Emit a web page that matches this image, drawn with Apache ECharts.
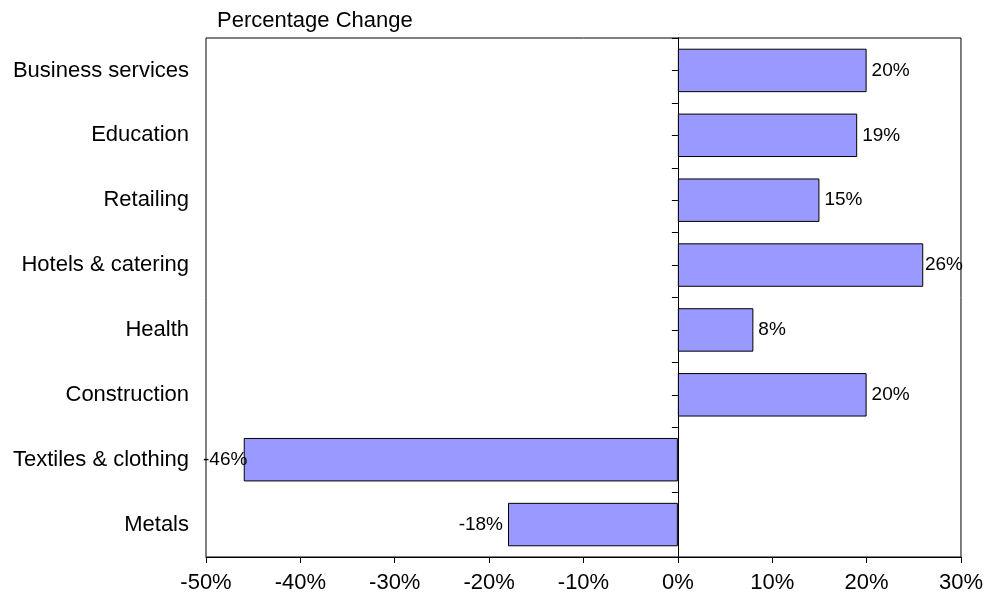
<!DOCTYPE html>
<html>
<head>
<meta charset="utf-8">
<script src="https://cdn.jsdelivr.net/npm/echarts@6/dist/echarts.min.js"></script>
<style>
  html, body { margin: 0; padding: 0; background: #fff; }
  #chart { width: 986px; height: 599px; }
</style>
</head>
<body>
<div id="chart"></div>
<script>
// Sectors, listed top to bottom
const sectors = [
  'Business services',
  'Education',
  'Retailing',
  'Hotels & catering',
  'Health',
  'Construction',
  'Textiles & clothing',
  'Metals'
];
// Percentage change for each sector
const changes = [20, 19, 15, 26, 8, 20, -46, -18];
// Value axis range and step (percent)
const axisMin = -50;
const axisMax = 30;
const axisStep = 10;

const FONT = "'Liberation Sans', Arial, sans-serif";
const W = 986;
const GRID = { left: 206, right: 22, top: 38, bottom: 42 };

const chart = echarts.init(document.getElementById('chart'), null, { renderer: 'canvas' });

const hiddenCategoryAxis = (extra) => Object.assign({
  type: 'category',
  data: sectors,
  inverse: true,
  position: 'left',
  axisLine: { show: true, onZero: true, onZeroAxisIndex: 0, lineStyle: { color: '#000', width: 1 } },
  axisTick: { show: true, length: 6, inside: false, lineStyle: { color: '#000', width: 1 } },
  axisLabel: { show: false },
  splitLine: { show: false }
}, extra);

chart.setOption({
  animation: false,
  backgroundColor: '#fff',
  textStyle: { fontFamily: FONT, color: '#000' },
  title: {
    text: 'Percentage Change',
    left: 217,
    top: 10,
    padding: 0,
    textStyle: { fontFamily: FONT, fontSize: 22, fontWeight: 'normal', color: '#000' }
  },
  grid: {
    left: GRID.left,
    right: GRID.right,
    top: GRID.top,
    bottom: GRID.bottom,
    show: true,
    borderColor: '#000',
    borderWidth: 1,
    backgroundColor: '#fff',
    containLabel: false
  },
  xAxis: {
    type: 'value',
    min: axisMin,
    max: axisMax,
    interval: axisStep,
    position: 'bottom',
    axisLine: { show: true, onZero: false, lineStyle: { color: '#000', width: 1 } },
    axisTick: { show: true, length: 6, lineStyle: { color: '#000', width: 1 } },
    axisLabel: {
      formatter: '{value}%',
      fontFamily: FONT,
      fontSize: 22,
      color: '#000',
      margin: 15
    },
    splitLine: { show: false }
  },
  yAxis: [
    {
      type: 'category',
      data: sectors,
      inverse: true,
      position: 'left',
      axisLine: { show: false, onZero: false },
      axisTick: { show: false },
      axisLabel: { fontFamily: FONT, fontSize: 22, color: '#000', margin: 17 },
      splitLine: { show: false }
    },
    // zero line with ticks at the category boundaries
    hiddenCategoryAxis({ axisTick: { show: true, length: 6, alignWithLabel: false, lineStyle: { color: '#000', width: 1 } } }),
    // extra ticks at the category centres
    hiddenCategoryAxis({ axisTick: { show: true, length: 6, alignWithLabel: true, lineStyle: { color: '#000', width: 1 } } })
  ],
  series: [
    {
      type: 'bar',
      xAxisIndex: 0,
      yAxisIndex: 0,
      // negative bars carry their label on the left end
      data: changes.map((v) => v < 0
        ? { value: v, label: { position: 'left' } }
        : { value: v }),
      barCategoryGap: '33%',
      itemStyle: { color: '#9999FF', borderColor: '#000', borderWidth: 1 },
      label: {
        show: true,
        position: 'right',
        distance: 5,
        formatter: (p) => p.value + '%',
        fontFamily: FONT,
        fontSize: 19,
        color: '#000'
      },
      // keep labels inside the plot frame
      labelLayout: function (p) {
        const r = p.labelRect;
        const cy = r.y + r.height / 2;
        if (r.x < GRID.left - 3) {
          return { x: GRID.left - 3, y: cy, align: 'left', verticalAlign: 'middle' };
        }
        if (r.x + r.width > W - GRID.right - 1) {
          return { x: W - GRID.right - 1, y: cy, align: 'right', verticalAlign: 'middle' };
        }
        return {};
      }
    }
  ]
});
</script>
</body>
</html>
